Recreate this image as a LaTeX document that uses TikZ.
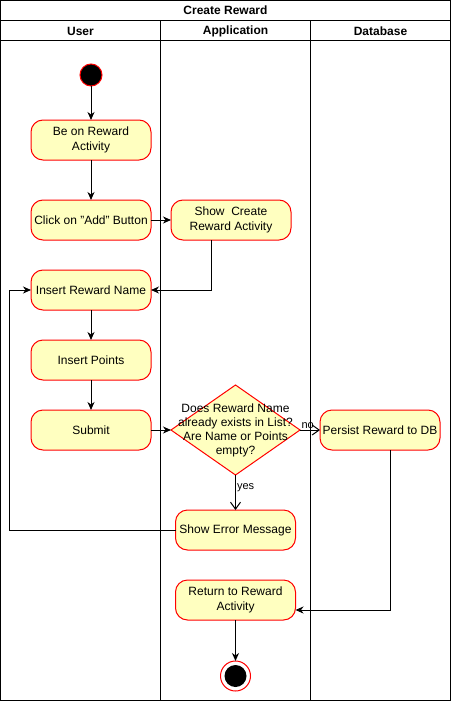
\documentclass[tikz,border=0pt]{standalone}
\usepackage{fontspec}
\setmainfont{Liberation Sans}
\usetikzlibrary{positioning,shapes.geometric,arrows.meta}
\definecolor{actfill}{HTML}{FFFFC0}

\begin{document}
\begin{tikzpicture}[x=1pt,y=1pt,line width=1pt,font=\fontsize{12}{15}\selectfont,
	actnode/.style={rectangle,rounded corners=12pt,draw=red,fill=actfill,minimum width=120pt,minimum height=40pt,align=center,inner sep=1pt,outer sep=0pt},
	decnode/.style={diamond,draw=red,fill=actfill,minimum width=129pt,minimum height=90pt,inner sep=0pt,outer sep=0pt},
	startnode/.style={circle,draw=red,fill=black,inner sep=0pt,outer sep=0pt,minimum size=22pt},
	endnode/.style={circle,draw=red,fill=white,inner sep=0pt,outer sep=0pt,minimum size=30pt,path picture={\fill[black] (path picture bounding box.center) circle (11pt);}},
	headnode/.style={font=\fontsize{12}{15}\selectfont\bfseries},
	flow/.style={-{Stealth[length=8pt,width=7pt,inset=2.5pt]}},
	openflow/.style={-{Straight Barb[length=7pt,width=10pt]}},
	guard/.style={font=\fontsize{11}{13}\selectfont,inner sep=1pt}]
			\useasboundingbox (0,0) rectangle (451,-701);

			\draw (0.5,-0.5) rectangle (450.5,-700.5);
			\draw (0.5,-20.5) -- (450.5,-20.5);
			\draw (0.5,-40.5) -- (450.5,-40.5);
			\draw (160.5,-20.5) -- (160.5,-700.5);
			\draw (310.5,-20.5) -- (310.5,-700.5);
			\node[headnode]	(title)	at (225.5,-10.5)	{Create Reward};
			\node[headnode]	(huser)	at (80.5,-31)		{User};
			\node[headnode]	(happ)	at (235.5,-31)		{Application};
			\node[headnode]	(hdb)	at (380.5,-31)		{Database};

			\node[startnode]	at (91,-75)										(start)		{};
			\node[actnode,node distance=34pt,below=of start]						(beon)		{Be on Reward\\Activity};
			\node[actnode,node distance=40pt,below=of beon]						(click)		{Click on "Add" Button};
			\node[actnode,node distance=20pt,right=of click]						(showcreate)	{Show\ \ Create\\Reward Activity};
			\node[actnode,node distance=30pt,below=of click]						(insertname)	{Insert Reward Name};
			\node[actnode,node distance=30pt,below=of insertname]				(insertpoints)	{Insert Points};
			\node[actnode,node distance=30pt,below=of insertpoints]				(submit)	{Submit};
			\node[decnode,node distance=20pt,right=of submit,
				label={[align=center,font=\fontsize{12}{14}\selectfont]center:Does Reward Name\\already exists in List?\\Are Name or Points\\empty?}]	(check)	{};
			\node[actnode,node distance=20pt,right=of check]						(persist)	{Persist Reward to DB};
			\node[actnode,node distance=35pt,below=of check]						(error)		{Show Error Message};
			\node[actnode,node distance=30pt,below=of error]						(return)	{Return to Reward\\Activity};
			\node[endnode,node distance=41pt,below=of return]					(finish)	{};

			\draw[flow] (start) -- (beon);
			\draw[flow] (beon) -- (click);
			\draw[flow] (click) -- (showcreate);
			\draw[flow] ([xshift=-20pt]showcreate.south) |- (insertname.east);
			\draw[flow] (insertname) -- (insertpoints);
			\draw[flow] (insertpoints) -- (submit);
			\draw[flow] (submit) -- (check.west);
			\draw[openflow] (check.east) -- node[guard,pos=0,anchor=south west] {no} (persist);
			\draw[openflow] (check.south) -- node[guard,pos=0.37,right] {yes} (error);
			\draw[flow] (error.west) -- ++(-166,0) |- (insertname.west);
			\draw[flow] ([xshift=10pt]persist.south) |- ([yshift=-10pt]return.east);
			\draw[flow] (return) -- (finish);
		\end{tikzpicture}
\end{document}
